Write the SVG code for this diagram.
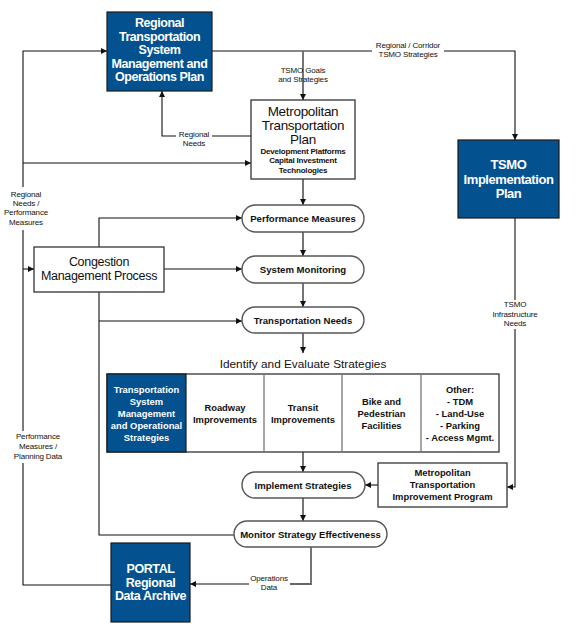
<svg xmlns="http://www.w3.org/2000/svg" width="584" height="636" viewBox="0 0 584 636">
<defs>
<style>
.blue{fill:#03528f;stroke:#1a1a1a;stroke-width:1.2}
.box{fill:#fff;stroke:#333;stroke-width:1.3}
.pill{fill:#fff;stroke:#555;stroke-width:1.4}
.wt{fill:#fff;font-family:"Liberation Sans",Arial,sans-serif;font-weight:bold;text-anchor:middle}
.bt{fill:#111;font-family:"Liberation Sans",Arial,sans-serif;font-weight:bold;text-anchor:middle}
.nt{fill:#111;font-family:"Liberation Sans",Arial,sans-serif;text-anchor:middle}
.sm{fill:#111;font-family:"Liberation Sans",Arial,sans-serif;font-size:8px;text-anchor:middle;letter-spacing:-0.15px}
.ln{fill:none;stroke:#111;stroke-width:1.1}
.gl{fill:none;stroke:#666;stroke-width:1.8}
</style>
<marker id="ah" viewBox="0 0 10 10" refX="10" refY="5" markerWidth="6" markerHeight="6" markerUnits="userSpaceOnUse" orient="auto"><path d="M0,0 L10,5 L0,10 z" fill="#111"/></marker>
</defs>
<rect width="584" height="636" fill="#fff"/>

<g id="connectors">
<path class="ln" d="M111,585 H23 V463"/>
<path class="ln" d="M23,431 V230"/>
<path class="ln" d="M23,187 V51 H107" marker-end="url(#ah)"/>
<path class="ln" d="M23,163 H251" marker-end="url(#ah)"/>
<path class="ln" d="M23,269 H34" marker-end="url(#ah)"/>
<path class="ln" d="M212,51 H515 V140" marker-end="url(#ah)"/>
<path class="gl" d="M303,51 V100" marker-end="url(#ah)"/>
<path class="ln" d="M251,136 H162 V91" marker-end="url(#ah)"/>
<path class="gl" d="M303,179 V205" marker-end="url(#ah)"/>
<path class="gl" d="M303,232 V256" marker-end="url(#ah)"/>
<path class="gl" d="M303,283 V307" marker-end="url(#ah)"/>
<path class="gl" d="M303,333 V353" marker-end="url(#ah)"/>
<path class="gl" d="M303,452 V472" marker-end="url(#ah)"/>
<path class="gl" d="M303,498 V521" marker-end="url(#ah)"/>
<path class="ln" d="M99,247 V218 H242" marker-end="url(#ah)"/>
<path class="ln" d="M164,269 H242" marker-end="url(#ah)"/>
<path class="ln" d="M99,292 V535 H234"/>
<path class="ln" d="M99,321 H242" marker-end="url(#ah)"/>
<path class="ln" d="M515,218 V300"/>
<path class="ln" d="M515,329 V487 H507" marker-end="url(#ah)"/>
<path class="ln" d="M378,485 H365" marker-end="url(#ah)"/>
<path class="gl" d="M311,547 V584 H290"/>
<path class="ln" d="M249,584 H190" marker-end="url(#ah)"/>
<rect x="372" y="40" width="72" height="20" fill="#fff"/>
<text class="sm" x="408" y="48">Regional / Corridor</text>
<text class="sm" x="408" y="57">TSMO Strategies</text>
<text class="sm" x="303" y="73">TSMO Goals</text>
<text class="sm" x="303" y="82">and Strategies</text>
<rect x="176" y="130" width="36" height="8" fill="#fff"/>
<text class="sm" x="194" y="137">Regional</text>
<text class="sm" x="194" y="146">Needs</text>
<text class="sm" x="26" y="197">Regional</text>
<text class="sm" x="26" y="206">Needs /</text>
<text class="sm" x="26" y="215">Performance</text>
<text class="sm" x="26" y="225">Measures</text>
<text class="sm" x="38" y="439">Performance</text>
<text class="sm" x="38" y="449">Measures /</text>
<text class="sm" x="38" y="459">Planning Data</text>
<text class="sm" x="515" y="307">TSMO</text>
<text class="sm" x="515" y="317">Infrastructure</text>
<text class="sm" x="515" y="326">Needs</text>
<text class="sm" x="269" y="581">Operations</text>
<text class="sm" x="269" y="590">Data</text>
</g>

<g id="regional-tsmo">
<rect class="blue" x="107" y="12" width="105" height="79"/>
<text class="wt" font-size="12.5" letter-spacing="-0.45"><tspan x="159.5" y="27">Regional</tspan><tspan x="159.5" y="40.5">Transportation</tspan><tspan x="159.5" y="54">System</tspan><tspan x="159.5" y="67.5">Management and</tspan><tspan x="159.5" y="81">Operations Plan</tspan></text>
</g>

<g id="mtp">
<rect class="box" x="251" y="100" width="104" height="79"/>
<text class="nt" font-size="13.5" letter-spacing="-0.3"><tspan x="303" y="116">Metropolitan</tspan><tspan x="303" y="130">Transportation</tspan><tspan x="303" y="144">Plan</tspan></text>
<text class="bt" font-size="8" letter-spacing="-0.2"><tspan x="303" y="154">Development Platforms</tspan><tspan x="303" y="163">Capital Investment</tspan><tspan x="303" y="173">Technologies</tspan></text>
</g>

<g id="tsmo-impl">
<rect class="blue" x="458" y="140" width="101" height="78"/>
<text class="wt" font-size="13" letter-spacing="-0.45"><tspan x="508.5" y="169">TSMO</tspan><tspan x="508.5" y="183.5">Implementation</tspan><tspan x="508.5" y="197.5">Plan</tspan></text>
</g>

<g id="cmp">
<rect class="box" x="34" y="247" width="130" height="45"/>
<text class="nt" font-size="12.5" letter-spacing="-0.3"><tspan x="99" y="266">Congestion</tspan><tspan x="99" y="280">Management Process</tspan></text>
</g>

<g id="perf-measures">
<rect class="pill" x="242" y="205" width="122" height="27" rx="13.5"/>
<text class="bt" font-size="9.6" x="303" y="222">Performance Measures</text>
</g>

<g id="sys-monitoring">
<rect class="pill" x="242" y="256" width="122" height="27" rx="13.5"/>
<text class="bt" font-size="9.6" x="303" y="273">System Monitoring</text>
</g>

<g id="trans-needs">
<rect class="pill" x="242" y="307" width="122" height="26" rx="13"/>
<text class="bt" font-size="9.6" x="303" y="323.5">Transportation Needs</text>
</g>

<g id="strategies">
<text class="nt" font-size="11.8" x="303" y="368">Identify and Evaluate Strategies</text>
<rect class="box" x="107" y="374" width="392" height="78" stroke="#111"/>
<rect class="blue" x="107" y="374" width="79" height="78"/>
<path d="M264,374 V452 M342,374 V452 M421,374 V452" stroke="#777" stroke-width="1.3"/>
<text class="wt" font-size="9.4"><tspan x="146.5" y="393">Transportation</tspan><tspan x="146.5" y="405">System</tspan><tspan x="146.5" y="417">Management</tspan><tspan x="146.5" y="428.5">and Operational</tspan><tspan x="146.5" y="440.5">Strategies</tspan></text>
<text class="bt" font-size="9.4"><tspan x="225" y="411">Roadway</tspan><tspan x="225" y="422.5">Improvements</tspan></text>
<text class="bt" font-size="9.4"><tspan x="303" y="411">Transit</tspan><tspan x="303" y="422.5">Improvements</tspan></text>
<text class="bt" font-size="9.4"><tspan x="381.5" y="405">Bike and</tspan><tspan x="381.5" y="417">Pedestrian</tspan><tspan x="381.5" y="428.5">Facilities</tspan></text>
<text class="bt" font-size="9.4"><tspan x="460" y="393">Other:</tspan><tspan x="460" y="405">- TDM</tspan><tspan x="460" y="417">- Land-Use</tspan><tspan x="460" y="428.5">- Parking</tspan><tspan x="460" y="440.5">- Access Mgmt.</tspan></text>
</g>

<g id="implement">
<rect class="pill" x="242" y="472" width="123" height="26" rx="13"/>
<text class="bt" font-size="9.6" x="303" y="488.5">Implement Strategies</text>
</g>

<g id="mtip">
<rect class="box" x="378" y="463" width="129" height="44"/>
<text class="bt" font-size="9.4"><tspan x="442.5" y="476">Metropolitan</tspan><tspan x="442.5" y="488">Transportation</tspan><tspan x="442.5" y="499.5">Improvement Program</tspan></text>
</g>

<g id="monitor">
<rect class="pill" x="234" y="521" width="153" height="26" rx="13"/>
<text class="bt" font-size="9.6" x="310.5" y="537.5">Monitor Strategy Effectiveness</text>
</g>

<g id="portal">
<rect class="blue" x="111" y="543" width="79" height="79"/>
<text class="wt" font-size="12.5" letter-spacing="-0.4"><tspan x="150.5" y="573">PORTAL</tspan><tspan x="150.5" y="586.5">Regional</tspan><tspan x="150.5" y="600">Data Archive</tspan></text>
</g>
</svg>
